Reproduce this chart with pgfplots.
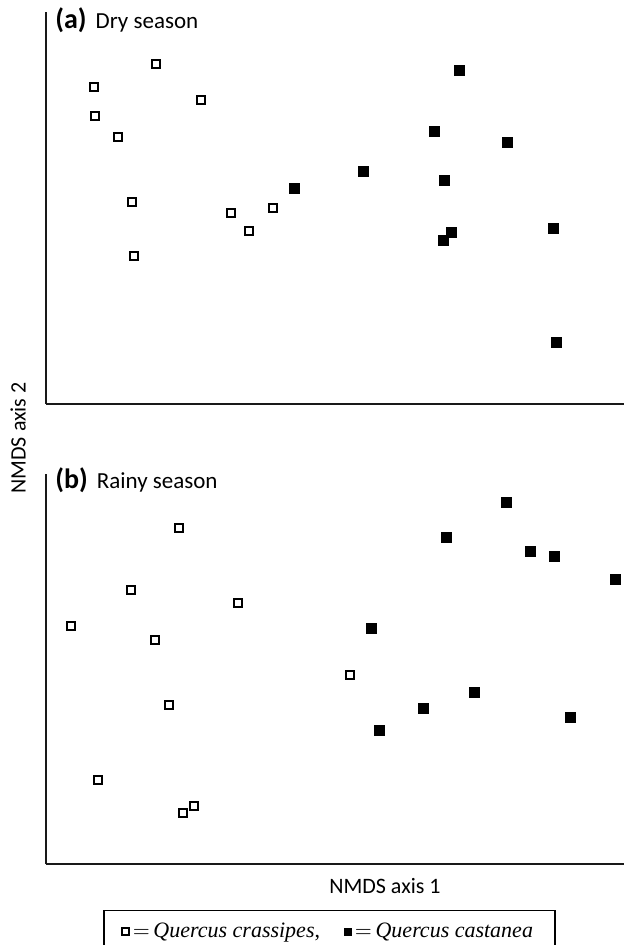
\documentclass[border=0pt]{standalone}
\usepackage{fontspec}
\setmainfont{Carlito}
\newfontfamily\tnr{Liberation Serif}
\usepackage{pgfplots}
\pgfplotsset{compat=1.18}

\pgfplotsset{
  nmds/.style={
    scale only axis,
    anchor=south west,
    width=289pt,
    axis lines=left,
    axis line style={-, line width=1.4pt, black!90},
    ticks=none,
    clip=false,
    xmin=0, xmax=5.78, ymin=0,
  },
  crass/.style={only marks, mark=square, mark size=1.9pt,
    mark options={line width=0.75pt, draw=black, fill=white}},
  cast/.style={only marks, mark=square*, mark size=2.4pt,
    mark options={line width=0.2pt, draw=black, fill=black}},
}

\begin{document}
\begin{tikzpicture}
\useasboundingbox (0,0) rectangle (313pt,472.5pt);

% (a) dry season
\begin{axis}[nmds, at={(23pt,270.5pt)}, height=196pt, ymax=3.92,
  ylabel={NMDS axis 2},
  ylabel style={at={(axis description cs:-0.0484,-0.0867)}, anchor=center,
    rotate=0, font=\fontsize{11}{13}\selectfont},
]
\addplot[crass] coordinates {
  (1.10,3.40) (0.48,3.17) (1.55,3.04) (0.49,2.88) (0.72,2.67)
  (0.86,2.02) (1.85,1.91) (2.27,1.96) (2.03,1.73) (0.88,1.48)
};
\addplot[cast] coordinates {
  (2.48,2.16) (4.13,3.34) (3.88,2.73) (4.61,2.62) (3.17,2.33)
  (3.98,2.24) (4.05,1.72) (3.97,1.64) (5.07,1.76) (5.10,0.62)
};
\node[anchor=base west, inner sep=0pt] at (axis description cs:0.0156,0.959)
  {\fontsize{14}{16}\selectfont\bfseries (a)\hspace{4.5pt}\fontsize{11.5}{13}\mdseries\selectfont Dry season};
\end{axis}

% (b) rainy season
\begin{axis}[nmds, at={(23pt,40.5pt)}, height=195pt, ymax=3.90,
  xlabel={NMDS axis 1},
  xlabel style={at={(axis description cs:0.5865,-0.0564)}, anchor=center,
    font=\fontsize{11}{13}\selectfont},
  legend columns=2,
  legend style={at={(axis description cs:0.4905,-0.118)}, anchor=north,
    draw=black, line width=0.7pt, inner xsep=9pt, inner ysep=4pt,
    font=\tnr\fontsize{11}{13}\selectfont,
    /tikz/every even column/.append style={column sep=10pt}},
  legend image code/.code={\draw[mark size=1.7pt] plot coordinates {(0.1cm,0cm)};},
]
\addplot[crass] coordinates {
  (1.33,3.36) (0.85,2.74) (1.92,2.61) (0.25,2.38) (1.09,2.24)
  (1.23,1.59) (0.52,0.84) (1.48,0.58) (1.37,0.51) (3.04,1.89)
};
\addlegendentry{$=$\,\textit{Quercus crassipes},}
\addplot[cast] coordinates {
  (4.60,3.62) (4.00,3.27) (4.84,3.13) (5.08,3.08) (5.69,2.85)
  (3.25,2.36) (4.28,1.72) (3.77,1.56) (3.33,1.34) (5.24,1.47)
};
\addlegendentry{$=$\,\textit{Quercus castanea}}
\node[anchor=base west, inner sep=0pt] at (axis description cs:0.0156,0.964)
  {\fontsize{14}{16}\selectfont\bfseries (b)\hspace{4.5pt}\fontsize{11.5}{13}\mdseries\selectfont Rainy season};
\end{axis}
\end{tikzpicture}
\end{document}
